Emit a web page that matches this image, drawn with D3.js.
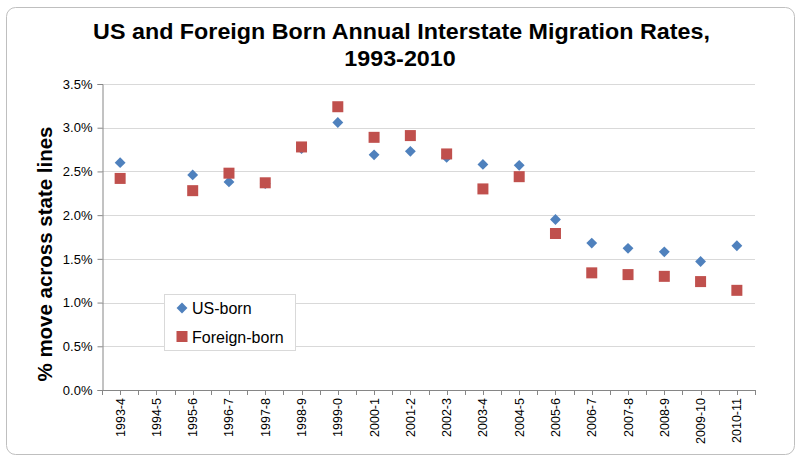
<!DOCTYPE html>
<html><head><meta charset="utf-8">
<script src="https://cdn.jsdelivr.net/npm/d3@7"></script>
<style>body{margin:0;background:#fff}</style>
</head><body>
<svg id="c" width="800" height="463"></svg>
<script>
const categories = ["1993-4","1994-5","1995-6","1996-7","1997-8","1998-9","1999-0","2000-1","2001-2","2002-3","2003-4","2004-5","2005-6","2006-7","2007-8","2008-9","2009-10","2010-11"];
const usBorn =      [2.60, null, 2.46, 2.38, 2.36, 2.76, 3.06, 2.69, 2.73, 2.66, 2.58, 2.57, 1.95, 1.68, 1.62, 1.58, 1.47, 1.65];
const foreignBorn = [2.42, null, 2.28, 2.48, 2.37, 2.78, 3.24, 2.89, 2.91, 2.70, 2.30, 2.44, 1.79, 1.34, 1.32, 1.30, 1.24, 1.14];
const yTicks = [0, 0.5, 1.0, 1.5, 2.0, 2.5, 3.0, 3.5];

const svg = d3.select("#c");
const font = "'Liberation Sans', Arial, sans-serif";
const L = 102, R = 755, T = 84, B = 390;

svg.append("rect").attr("x",6.5).attr("y",7.5).attr("width",788).attr("height",447)
  .attr("rx",9).attr("fill","#fff").attr("stroke","#BFBFBF").attr("stroke-width",1);

const x = d3.scaleBand().domain(categories).range([L, R]);
const y = d3.scaleLinear().domain([0, 3.5]).range([B, T]);

// gridlines
svg.append("g").selectAll("line").data(yTicks.filter(d=>d>0)).join("line")
  .attr("x1",L).attr("x2",R).attr("y1",d=>Math.round(y(d))+0.5).attr("y2",d=>Math.round(y(d))+0.5)
  .attr("stroke","#D9D9D9");

// y axis
const ya = svg.append("g").attr("transform",`translate(${L+0.5},0)`)
  .call(d3.axisLeft(y).tickValues(yTicks).tickFormat(d=>d.toFixed(1)+"%").tickSize(5).tickPadding(5));
ya.select(".domain").attr("stroke","#868686");
ya.selectAll(".tick line").attr("stroke","#868686");
ya.selectAll("text").attr("font-family",font).attr("font-size",13).attr("fill","#000");

// x axis
svg.append("line").attr("x1",L).attr("x2",R+1).attr("y1",B+0.5).attr("y2",B+0.5).attr("stroke","#868686");
const half = [];
categories.forEach((c,i)=>{ half.push(x(c)); half.push(x(c)+x.bandwidth()/2); });
half.push(R);
svg.append("g").selectAll("line").data(half).join("line")
  .attr("x1",d=>Math.round(d)+0.5).attr("x2",d=>Math.round(d)+0.5).attr("y1",B).attr("y2",B+5)
  .attr("stroke","#868686");
svg.append("g").selectAll("text").data(categories).join("text")
  .attr("transform",d=>`translate(${x(d)+x.bandwidth()/2+4.5},${B+8}) rotate(-90)`)
  .attr("text-anchor","end").attr("font-family",font).attr("font-size",12.5).text(d=>d);

// markers
const pts = (vals) => categories.map((c,i)=>({c, v: vals[i]})).filter(d=>d.v!=null);
const diamond = d3.symbol().type(d3.symbolDiamond2).size(75);
svg.append("g").selectAll("path").data(pts(usBorn)).join("path")
  .attr("d", diamond).attr("transform",d=>`translate(${x(d.c)+x.bandwidth()/2},${y(d.v)})`)
  .attr("fill","#4F81BD");
svg.append("g").selectAll("rect").data(pts(foreignBorn)).join("rect")
  .attr("x",d=>x(d.c)+x.bandwidth()/2-5.5).attr("y",d=>y(d.v)-5.5).attr("width",11).attr("height",11)
  .attr("fill","#C0504D");

// title
svg.append("text").attr("transform","translate(401.5,39) scale(1.06,1)").attr("text-anchor","middle").attr("font-family",font)
  .attr("font-weight","bold").attr("font-size",22).text("US and Foreign Born Annual Interstate Migration Rates,");
svg.append("text").attr("transform","translate(400,66) scale(1.06,1)").attr("text-anchor","middle").attr("font-family",font)
  .attr("font-weight","bold").attr("font-size",22).text("1993-2010");

// y title
svg.append("text").attr("transform",`translate(52,254) rotate(-90)`).attr("text-anchor","middle")
  .attr("font-family",font).attr("font-weight","bold").attr("font-size",20)
  .attr("textLength",255).attr("lengthAdjust","spacingAndGlyphs").text("% move across state lines");

// legend
const lg = svg.append("g");
lg.append("rect").attr("x",164.5).attr("y",294.5).attr("width",131).attr("height",56).attr("fill","#fff").attr("stroke","#D9D9D9");
lg.append("path").attr("d",diamond).attr("transform","translate(182,308)").attr("fill","#4F81BD");
lg.append("rect").attr("x",176.5).attr("y",331).attr("width",11).attr("height",11).attr("fill","#C0504D");
lg.append("text").attr("x",192).attr("y",314).attr("font-family",font).attr("font-size",16).text("US-born");
lg.append("text").attr("x",192).attr("y",343).attr("font-family",font).attr("font-size",16).text("Foreign-born");
</script>
</body></html>
